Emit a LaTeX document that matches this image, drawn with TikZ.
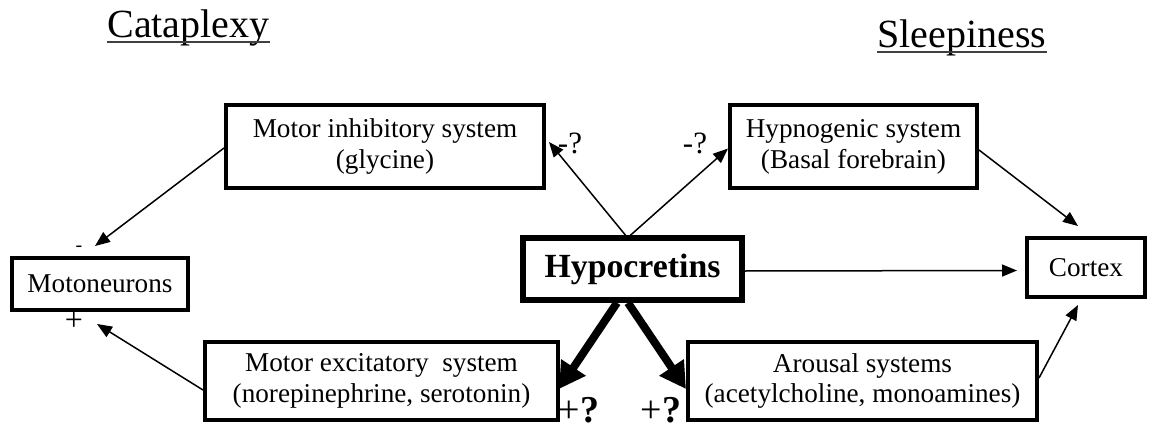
\documentclass[tikz,border=0pt]{standalone}
\usepackage{fontspec}
\setmainfont{Liberation Serif}
\usetikzlibrary{arrows.meta,calc}
\begin{document}
\begin{tikzpicture}[x=0.5pt,y=-0.5pt,
 box/.style={draw,line width=2pt,inner sep=0pt,align=center,font=\fontsize{13.6}{15.4}\selectfont},
 thinarr/.style={line width=0.75pt,-{Triangle[length=7.5pt,width=6pt]}},
 thickarr/.style={line width=4pt,-{Triangle[length=13pt,width=14pt]}},
 lbl/.style={inner sep=0pt,font=\fontsize{15.5}{15.5}\selectfont},
 plbl/.style={inner sep=0pt,font=\fontsize{19}{19}\selectfont},
 ttl/.style={inner sep=0pt,font=\fontsize{20}{20}\selectfont,anchor=base west},
 uline/.style={line width=1pt,black!75}]
\useasboundingbox (0,0) rectangle (1152,428);

\node[ttl] (cat) at (107,38) {Cataplexy};
\draw[uline] ($(cat.base west)+(0,4)$) -- ($(cat.base east)+(0,4)$);
\node[ttl] (sle) at (877,47) {Sleepiness};
\draw[uline] ($(sle.base west)+(0,5)$) -- ($(sle.base east)+(0,5)$);

\node[box,minimum width=159pt,minimum height=41.5pt] (minh) at (385,146.5) {Motor inhibitory system\\(glycine)};
\node[box,minimum width=123.5pt,minimum height=41.5pt] (hyp) at (853.5,146.5) {Hypnogenic system\\(Basal forebrain)};
\node[box,line width=2.8pt,minimum width=109.5pt,minimum height=31pt,font=\fontsize{16.9}{18}\selectfont\bfseries] (hcrt) at (632.5,269) {Hypocretins};
\node[box,minimum width=88pt,minimum height=26pt] (moto) at (100,284) {Motoneurons};
\node[box,minimum width=59pt,minimum height=29.5pt] (cortex) at (1086,267.5) {Cortex};
\node[box,minimum width=176.5pt,minimum height=39pt] (mex) at (381.5,381) {Motor excitatory~ system\\(norepinephrine, serotonin)};
\node[box,minimum width=174.5pt,minimum height=39pt] (arousal) at (862.5,381) {Arousal systems\\(acetylcholine, monoamines)};

\draw[thinarr] ($(hcrt.north)+(-7,0)$) -- ($(minh.east)+(3,-4.5)$);
\draw[thinarr] ($(hcrt.north)+(-2,0)$) -- ($(hyp.west)+(0,2)$);
\node[lbl] (q1) at (570,143.5) {-?};
\node[lbl] (q2) at (695,143.5) {-?};

\draw[thinarr] ($(hcrt.east)+(0,2)$) -- ($(cortex.west)+(-8,3)$);
\draw[thinarr] ($(hyp.east)+(0,3.5)$) -- ($(cortex.north)+(-8,-10)$);
\draw[thinarr] ($(arousal.east)+(0,-3)$) -- ($(cortex.south)+(-8,6)$);

\draw[thinarr] ($(minh.west)+(0,1.5)$) -- ($(moto.north)+(-5,-10)$);
\node[lbl,font=\fontsize{10}{10}\selectfont] (mminus) at (79,249) {-};
\draw[thinarr] ($(mex.west)+(0,9)$) -- ($(moto.south)+(-3,12)$);
\node[lbl,font=\fontsize{16}{16}\selectfont] (mplus) at (74,321) {+};

\draw[thickarr] ($(hcrt.south)+(-15.5,0)$) -- ($(mex.east)+(-1,8)$);
\draw[thickarr] ($(hcrt.south)+(-4.5,0)$) -- ($(arousal.west)+(0,8)$);
\node[plbl] (p1) at (579,410) {+\textbf{?}};
\node[plbl] (p2) at (661,410) {+\textbf{?}};
\end{tikzpicture}
\end{document}
